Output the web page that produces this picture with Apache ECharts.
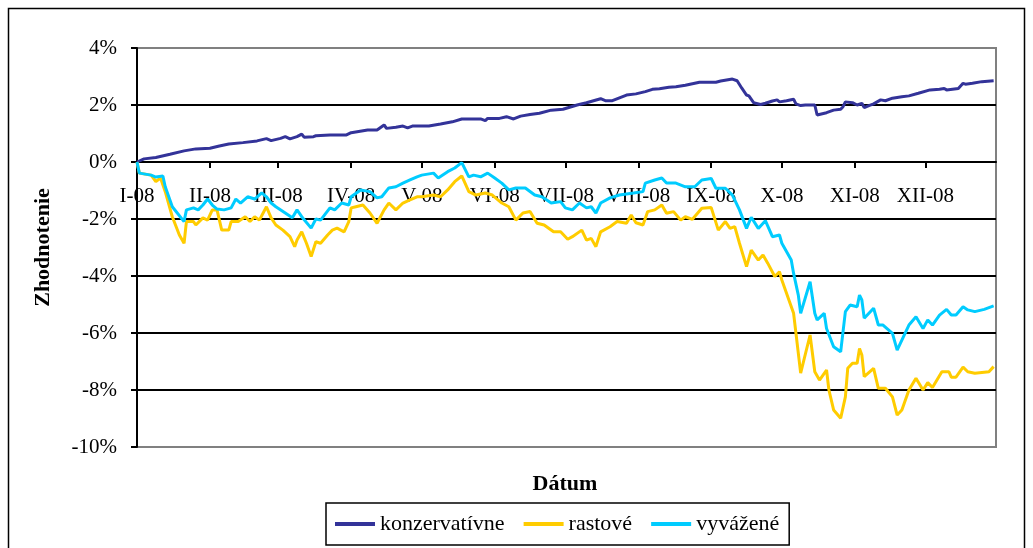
<!DOCTYPE html>
<html>
<head>
<meta charset="utf-8">
<script src="https://cdn.jsdelivr.net/npm/echarts@6/dist/echarts.min.js"></script>
<style>
html,body{margin:0;padding:0;background:#fff;}
#chart{width:1033px;height:548px;}
</style>
</head>
<body>
<div id="chart"></div>
<script>
const seriesNames = ['konzervatívne', 'rastové', 'vyvážené'];
const monthLabels = ['I-08','II-08','III-08','IV-08','V-08','VI-08','VII-08','VIII-08','IX-08','X-08','XI-08','XII-08'];
const yTicks = [-10, -8, -6, -4, -2, 0, 2, 4];

const konzDates = [
 '2008-01-01','2008-01-04','2008-01-09','2008-01-15','2008-01-21','2008-01-26',
 '2008-02-01','2008-02-05','2008-02-09','2008-02-15','2008-02-21','2008-02-25','2008-02-27',
 '2008-03-02','2008-03-04','2008-03-06','2008-03-09','2008-03-11','2008-03-12','2008-03-16','2008-03-17','2008-03-23','2008-03-30',
 '2008-04-01','2008-04-08','2008-04-12','2008-04-15','2008-04-16','2008-04-20','2008-04-23','2008-04-25','2008-04-27',
 '2008-05-04','2008-05-09','2008-05-14','2008-05-18','2008-05-26','2008-05-28','2008-05-29',
 '2008-06-03','2008-06-06','2008-06-09','2008-06-12','2008-06-16','2008-06-20','2008-06-25','2008-06-30',
 '2008-07-06','2008-07-10','2008-07-16','2008-07-18','2008-07-21','2008-07-27','2008-07-31',
 '2008-08-04','2008-08-07','2008-08-10','2008-08-14','2008-08-17','2008-08-21','2008-08-27',
 '2008-09-03','2008-09-05','2008-09-10','2008-09-12','2008-09-14','2008-09-16','2008-09-17','2008-09-19','2008-09-22','2008-09-24','2008-09-27','2008-09-29','2008-09-30',
 '2008-10-03','2008-10-06','2008-10-07','2008-10-09','2008-10-11','2008-10-15','2008-10-16','2008-10-20','2008-10-23','2008-10-26','2008-10-27','2008-10-28','2008-10-31',
 '2008-11-02','2008-11-04','2008-11-05','2008-11-07','2008-11-09','2008-11-12','2008-11-14','2008-11-17','2008-11-21','2008-11-24','2008-11-28',
 '2008-12-03','2008-12-07','2008-12-09','2008-12-10','2008-12-15','2008-12-17','2008-12-18','2008-12-21','2008-12-25','2008-12-30'
];
const konzValues = [
 0.00,0.11,0.16,0.27,0.39,0.46,
 0.48,0.56,0.63,0.68,0.74,0.82,0.75,
 0.83,0.89,0.81,0.89,0.98,0.87,0.89,0.92,0.95,0.95,
 1.03,1.12,1.12,1.30,1.18,1.22,1.26,1.20,1.26,
 1.26,1.33,1.41,1.51,1.51,1.45,1.53,
 1.53,1.59,1.51,1.61,1.67,1.71,1.82,1.85,
 2.00,2.08,2.22,2.15,2.15,2.35,2.39,
 2.47,2.55,2.57,2.62,2.64,2.69,2.80,
 2.80,2.84,2.91,2.85,2.59,2.35,2.32,2.08,2.02,2.06,2.14,2.18,2.11,
 2.15,2.20,2.04,1.98,2.00,2.00,1.65,1.73,1.82,1.85,1.94,2.11,2.08,
 2.00,2.06,1.91,1.98,2.04,2.18,2.15,2.24,2.29,2.32,2.41,
 2.53,2.55,2.58,2.53,2.58,2.76,2.73,2.76,2.82,2.85
];

const rastDates = [
 '2008-01-01','2008-01-02','2008-01-07','2008-01-09','2008-01-11','2008-01-13','2008-01-16','2008-01-19','2008-01-21','2008-01-22','2008-01-25','2008-01-26','2008-01-29','2008-01-31',
 '2008-02-02','2008-02-04','2008-02-06','2008-02-09','2008-02-10','2008-02-13','2008-02-16','2008-02-18','2008-02-20','2008-02-22','2008-02-25','2008-02-27','2008-02-29',
 '2008-03-03','2008-03-06','2008-03-08','2008-03-09','2008-03-11','2008-03-13','2008-03-15','2008-03-17','2008-03-19','2008-03-22','2008-03-24','2008-03-26','2008-03-29','2008-03-31',
 '2008-04-01','2008-04-03','2008-04-06','2008-04-09','2008-04-12','2008-04-15','2008-04-17','2008-04-20','2008-04-23','2008-04-26','2008-04-29',
 '2008-05-01','2008-05-06','2008-05-09','2008-05-12','2008-05-15','2008-05-18','2008-05-21','2008-05-24','2008-05-28','2008-05-31',
 '2008-06-04','2008-06-07','2008-06-10','2008-06-13','2008-06-16','2008-06-19','2008-06-22','2008-06-26','2008-06-29',
 '2008-07-02','2008-07-04','2008-07-08','2008-07-10','2008-07-12','2008-07-14','2008-07-16','2008-07-20','2008-07-23','2008-07-27','2008-07-29','2008-07-31',
 '2008-08-03','2008-08-05','2008-08-08','2008-08-11','2008-08-13','2008-08-16','2008-08-19','2008-08-21','2008-08-24','2008-08-28',
 '2008-09-01','2008-09-04','2008-09-07','2008-09-09','2008-09-11','2008-09-13','2008-09-16','2008-09-18','2008-09-21','2008-09-23','2008-09-25','2008-09-28','2008-09-30',
 '2008-10-01','2008-10-04','2008-10-06','2008-10-07','2008-10-09','2008-10-13','2008-10-15','2008-10-17','2008-10-20','2008-10-21','2008-10-23','2008-10-26','2008-10-28','2008-10-29','2008-10-31',
 '2008-11-02','2008-11-03','2008-11-04','2008-11-05','2008-11-09','2008-11-11','2008-11-14','2008-11-17','2008-11-19','2008-11-21','2008-11-24','2008-11-27','2008-11-30',
 '2008-12-02','2008-12-04','2008-12-08','2008-12-11','2008-12-12','2008-12-14','2008-12-17','2008-12-19','2008-12-22','2008-12-28','2008-12-30'
];
const rastValues = [
 0.00,-0.39,-0.46,-0.69,-0.56,-1.04,-1.92,-2.56,-2.85,-2.09,-2.09,-2.21,-1.96,-2.04,
 -1.68,-1.68,-2.39,-2.39,-2.09,-2.09,-1.92,-2.09,-1.92,-2.04,-1.57,-1.96,-2.21,
 -2.39,-2.62,-2.97,-2.74,-2.45,-2.85,-3.32,-2.80,-2.85,-2.56,-2.39,-2.32,-2.45,-2.09,
 -1.61,-1.57,-1.51,-1.79,-2.15,-1.68,-1.44,-1.68,-1.44,-1.33,-1.22,
 -1.22,-1.16,-1.22,-0.98,-0.69,-0.49,-1.04,-1.16,-1.09,-1.16,
 -1.44,-1.57,-2.04,-1.79,-1.74,-2.15,-2.21,-2.45,-2.45,
 -2.71,-2.62,-2.39,-2.74,-2.68,-2.97,-2.45,-2.27,-2.09,-2.15,-1.86,-2.13,
 -2.21,-1.74,-1.68,-1.51,-1.80,-1.74,-2.04,-1.92,-2.01,-1.62,
 -1.60,-2.39,-2.09,-2.33,-2.27,-2.85,-3.67,-3.09,-3.44,-3.26,-3.55,-4.02,-3.85,
 -4.14,-4.84,-5.31,-6.01,-7.41,-6.07,-7.36,-7.65,-7.30,-8.00,-8.70,-8.99,-8.24,-7.24,-7.06,
 -7.06,-6.54,-6.77,-7.53,-7.24,-7.94,-7.94,-8.24,-8.88,-8.70,-8.00,-7.59,-8.00,
 -7.74,-7.91,-7.36,-7.36,-7.55,-7.55,-7.20,-7.36,-7.41,-7.36,-7.18
];

const vyvDates = [
 '2008-01-01','2008-01-02','2008-01-07','2008-01-09','2008-01-12','2008-01-13','2008-01-16','2008-01-21','2008-01-22','2008-01-25','2008-01-27','2008-01-29','2008-01-31',
 '2008-02-02','2008-02-04','2008-02-07','2008-02-10','2008-02-12','2008-02-14','2008-02-17','2008-02-20','2008-02-23','2008-02-25','2008-02-27','2008-02-29',
 '2008-03-04','2008-03-07','2008-03-09','2008-03-11','2008-03-15','2008-03-17','2008-03-19','2008-03-23','2008-03-25','2008-03-28','2008-03-31',
 '2008-04-01','2008-04-05','2008-04-09','2008-04-12','2008-04-14','2008-04-17','2008-04-20','2008-04-23','2008-04-26','2008-04-29',
 '2008-05-01','2008-05-06','2008-05-08','2008-05-12','2008-05-15','2008-05-18','2008-05-21','2008-05-23','2008-05-26','2008-05-29',
 '2008-06-01','2008-06-04','2008-06-07','2008-06-10','2008-06-14','2008-06-18','2008-06-21','2008-06-25','2008-06-29',
 '2008-07-01','2008-07-04','2008-07-07','2008-07-10','2008-07-12','2008-07-14','2008-07-16','2008-07-20','2008-07-24','2008-07-30',
 '2008-08-03','2008-08-04','2008-08-08','2008-08-11','2008-08-13','2008-08-17','2008-08-21','2008-08-25','2008-08-28',
 '2008-09-01','2008-09-03','2008-09-07','2008-09-10','2008-09-13','2008-09-16','2008-09-18','2008-09-21','2008-09-24','2008-09-27','2008-09-30',
 '2008-10-01','2008-10-05','2008-10-06','2008-10-08','2008-10-09','2008-10-13','2008-10-15','2008-10-16','2008-10-19','2008-10-20','2008-10-23','2008-10-26','2008-10-28','2008-10-30',
 '2008-11-02','2008-11-03','2008-11-04','2008-11-05','2008-11-09','2008-11-11','2008-11-13','2008-11-17','2008-11-19','2008-11-21','2008-11-24','2008-11-27','2008-11-30',
 '2008-12-02','2008-12-04','2008-12-07','2008-12-10','2008-12-12','2008-12-14','2008-12-17','2008-12-19','2008-12-22','2008-12-26','2008-12-30'
];
const vyvValues = [
 0.00,-0.39,-0.46,-0.53,-0.49,-0.87,-1.57,-2.09,-1.68,-1.61,-1.68,-1.51,-1.30,
 -1.51,-1.65,-1.68,-1.61,-1.30,-1.44,-1.22,-1.30,-1.08,-1.22,-1.44,-1.57,
 -1.79,-1.96,-1.68,-1.92,-2.32,-2.00,-2.04,-1.61,-1.68,-1.44,-1.51,
 -1.22,-0.98,-1.04,-1.26,-1.22,-0.91,-0.87,-0.74,-0.63,-0.52,
 -0.46,-0.39,-0.56,-0.34,-0.21,-0.02,-0.52,-0.46,-0.52,-0.39,
 -0.56,-0.74,-0.98,-0.91,-0.91,-1.16,-1.22,-1.44,-1.39,
 -1.61,-1.68,-1.44,-1.61,-1.57,-1.79,-1.44,-1.26,-1.16,-1.09,
 -1.04,-0.74,-0.63,-0.56,-0.74,-0.74,-0.87,-0.87,-0.63,
 -0.58,-0.92,-0.92,-1.16,-1.68,-2.33,-1.94,-2.33,-2.06,-2.62,-2.56,
 -2.85,-3.44,-3.91,-4.67,-5.31,-4.20,-5.31,-5.54,-5.31,-5.84,-6.48,-6.66,-5.25,-5.02,
 -5.08,-4.67,-4.84,-5.48,-5.13,-5.72,-5.72,-6.01,-6.60,-6.25,-5.72,-5.43,-5.84,
 -5.54,-5.72,-5.37,-5.17,-5.37,-5.37,-5.08,-5.19,-5.25,-5.17,-5.05
];

const colors = ['#333399', '#FFCC00', '#00CCFF'];
const FONT = '"Liberation Serif", "Times New Roman", serif';

function pairs(dates, values) { return dates.map((d, i) => [d, values[i]]); }
const seriesData = [pairs(konzDates, konzValues), pairs(rastDates, rastValues), pairs(vyvDates, vyvValues)];

const chart = echarts.init(document.getElementById('chart'), null, {renderer: 'canvas'});
chart.setOption({
  animation: false,
  backgroundColor: '#ffffff',
  textStyle: {fontFamily: FONT, color: '#000'},
  grid: {left: 137, right: 37, top: 48, bottom: 101, show: true, borderColor: '#808080', borderWidth: 2, backgroundColor: 'transparent'},
  graphic: [
    {type: 'rect', shape: {x: 8.5, y: 8.5, width: 1016, height: 600}, style: {fill: 'none', stroke: '#000', lineWidth: 1.5}, silent: true, z: -10},
    {type: 'text', style: {x: 565, y: 484, text: 'Dátum', textAlign: 'center', textVerticalAlign: 'middle', font: 'bold 22px ' + FONT, fill: '#000'}}
  ],
  legend: {
    left: 326, top: 503,
    padding: [10, 10, 10, 9],
    itemGap: 19,
    itemWidth: 40, itemHeight: 4,
    icon: 'rect',
    borderColor: '#000', borderWidth: 1.5,
    textStyle: {fontFamily: FONT, fontSize: 22, color: '#000'},
    data: seriesNames
  },
  xAxis: {
    type: 'time',
    min: '2008-01-01', max: '2008-12-31',
    splitNumber: 12,
    axisLine: {onZero: true, lineStyle: {color: '#000', width: 2}},
    axisTick: {show: true, inside: false, length: 6, lineStyle: {color: '#000', width: 2}},
    axisLabel: {
      margin: -261, fontFamily: FONT, fontSize: 21, color: '#000', hideOverlap: false,
      formatter: function (val) { const d = new Date(val); return monthLabels[d.getMonth()]; }
    },
    splitLine: {show: false}, minorTick: {show: false}
  },
  yAxis: {
    type: 'value', min: -10, max: 4, interval: 2,
    name: 'Zhodnotenie', nameLocation: 'middle', nameRotate: 90, nameGap: 83,
    nameTextStyle: {fontFamily: FONT, fontSize: 22, fontWeight: 'bold', color: '#000'},
    axisLine: {show: true, lineStyle: {color: '#000', width: 2}},
    axisTick: {show: true, inside: false, length: 6, lineStyle: {color: '#000', width: 2}},
    axisLabel: {margin: 20, fontFamily: FONT, fontSize: 21, color: '#000', formatter: v => v + '%'},
    splitLine: {show: true, lineStyle: {color: ['#808080','#000','#000','#000','#000','#000','#000','#808080'], width: 2}}
  },
  series: seriesNames.map((name, i) => ({
    name: name, type: 'line', data: seriesData[i], symbol: 'none', showSymbol: false,
    lineStyle: {color: colors[i], width: 3}, itemStyle: {color: colors[i]}, z: 3 + i
  }))
});
</script>
</body>
</html>
